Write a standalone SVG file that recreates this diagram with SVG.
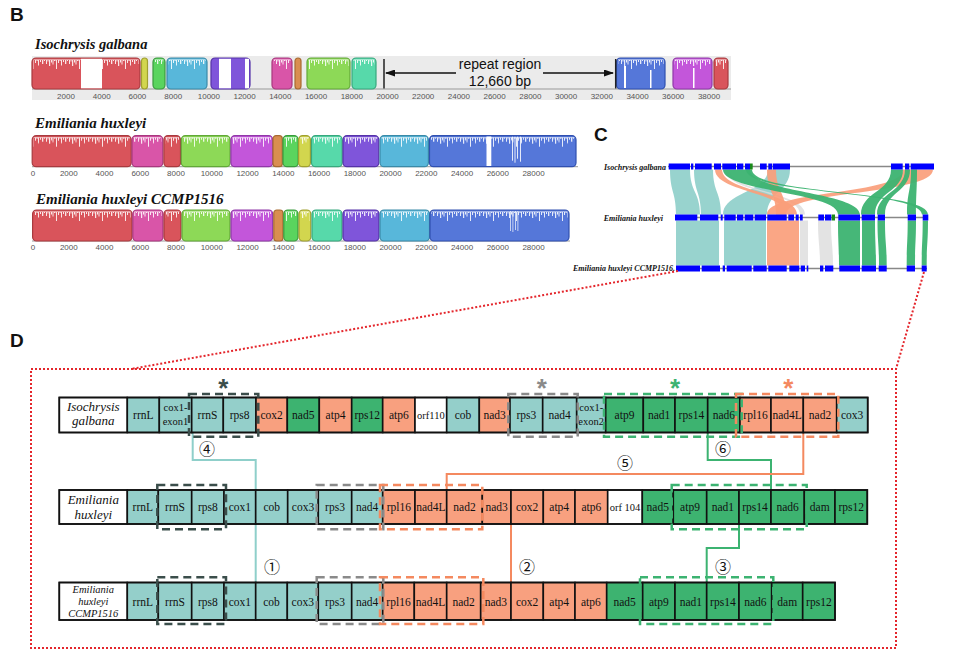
<svg xmlns="http://www.w3.org/2000/svg" width="953" height="661" viewBox="0 0 953 661">
<style>
.lab{font-family:"Liberation Sans",Arial,sans-serif;font-weight:bold;font-size:19px;fill:#111}
.sp{font-family:"Liberation Serif","Times New Roman",serif;font-weight:bold;font-style:italic;fill:#111}
.tk{font-family:"Liberation Sans",Arial,sans-serif;font-size:8px;fill:#555;text-anchor:middle}
.b{stroke-width:1.2}
.red{fill:#d9545b;stroke:#a83a3f}.yel{fill:#d2d64e;stroke:#a0a030}.grn{fill:#5ad45e;stroke:#3a9a3e}
.cya{fill:#58b7da;stroke:#3a8aa8}.pur{fill:#7f55da;stroke:#5533a8}.pnk{fill:#d955a8;stroke:#a8387e}
.org{fill:#d98e50;stroke:#a86a30}.lgr{fill:#8dd957;stroke:#62a838}.tea{fill:#57d9aa;stroke:#38a87e}
.blu{fill:#5577d9;stroke:#3050b0}.mag{fill:#c356da;stroke:#9038a8}
.ov{fill:url(#prof)}
.axis{stroke:#999;stroke-width:1}
.bl{fill:#0000ff}
.rt{fill:#8fcfca;opacity:.92}.rs{fill:#fa9e7b;opacity:.92}.rg{fill:#3cb371;opacity:.95}.rw{fill:#dcdcdc;opacity:.8}
.cl{stroke:#888;stroke-width:1.5}
.csp{font-family:"Liberation Serif","Times New Roman",serif;font-weight:bold;font-style:italic;font-size:8px;fill:#111;text-anchor:end}
.c rect{stroke:#111;stroke-width:1.6}
.tl{fill:#94cfca}.sa{fill:#f8a07f}.gr{fill:#3db370}.wh{fill:#fff}
.c text{font-family:"Liberation Serif","Times New Roman",serif;font-size:11.5px;text-anchor:middle;fill:#111}
.c text.sm{font-size:10.5px}
.c text.it{font-style:italic;font-size:13px}
.c text.it2{font-style:italic;font-size:10.5px}
.frame{fill:none;stroke:#111;stroke-width:2.5}
.dash{fill:none;stroke-width:2.5;stroke-dasharray:8 5}
.ast{font-family:"Liberation Sans",Arial,sans-serif;font-weight:bold;font-size:26px;text-anchor:middle}
.num{font-family:"Noto Sans CJK JP","DejaVu Sans",sans-serif;font-size:16px;text-anchor:middle;dominant-baseline:central;fill:#111}
.red-dot{fill:none;stroke:#e4262c;stroke-width:2;stroke-dasharray:2 2}
</style>
<defs>
<pattern id="prof" patternUnits="userSpaceOnUse" width="23" height="14">
<g fill="#fff" opacity="0.85">
<rect width="23" height="2"/>
<rect x="0" width="1" height="6"/><rect x="1.5" width="1" height="3.5"/><rect x="3" width="1.2" height="8"/>
<rect x="5" width="1" height="4.5"/><rect x="6.5" width="1" height="6.5"/><rect x="8" width="1.5" height="3"/>
<rect x="10" width="1" height="11"/><rect x="12" width="1" height="5"/><rect x="13.5" width="1.2" height="3"/>
<rect x="15" width="1" height="7.5"/><rect x="17" width="1" height="4"/><rect x="19" width="1.3" height="6"/><rect x="21" width="1" height="3"/>
</g>
</pattern>
<marker id="ah" markerUnits="userSpaceOnUse" markerWidth="10" markerHeight="7" refX="9" refY="3.5" orient="auto">
<path d="M0,0 L10,3.5 L0,7 z" fill="#111"/>
</marker>
</defs>
<rect width="953" height="661" fill="#fff"/>

<!-- Panel B -->
<g id="panelB">
<text class="lab" x="10" y="21">B</text>
<text class="sp" x="35" y="48.5" font-size="14.5">Isochrysis galbana</text>
<rect x="32" y="56" width="699" height="44" fill="#ebebeb"/>
<g id="trackIG" transform="translate(0,58)">
<line class="axis" x1="32" y1="31" x2="731" y2="31"/>
<rect class="b red" x="32" y="0" width="108" height="31" rx="4"/><rect class="ov" x="33.5" y="1.5" width="105" height="11"/><rect x="81" y="0.8" width="21" height="29.5" fill="#fff"/>
<rect class="b yel" x="141.5" y="0" width="6" height="31" rx="3"/>
<rect class="b grn" x="153" y="0" width="12" height="31" rx="4"/><rect class="ov" x="154.5" y="1.5" width="9" height="11"/>
<rect class="b cya" x="167" y="0" width="40" height="31" rx="4"/><rect class="ov" x="168.5" y="1.5" width="37" height="11"/>
<rect class="b pur" x="211" y="0" width="39" height="31" rx="4"/><rect x="219" y="0.8" width="12" height="29.5" fill="#fff"/><rect x="245" y="0.8" width="4" height="29.5" fill="#fff"/>
<rect class="b pnk" x="272" y="0" width="20" height="31" rx="4"/><rect class="ov" x="273.5" y="1.5" width="17" height="11"/>
<rect class="b org" x="295" y="0" width="6" height="31" rx="3"/>
<rect class="b lgr" x="307" y="0" width="43" height="31" rx="4"/><rect class="ov" x="308.5" y="1.5" width="40" height="11"/>
<rect class="b tea" x="352" y="0" width="24" height="31" rx="4"/><rect class="ov" x="353.5" y="1.5" width="21" height="11"/>
<rect class="b blu" x="616.5" y="0" width="48.5" height="31" rx="4"/><rect class="ov" x="618" y="1.5" width="45.5" height="11"/><rect x="624" y="8" width="2" height="22" fill="#fff"/><rect x="650" y="12" width="1.5" height="18" fill="#fff"/>
<rect class="b mag" x="673" y="0" width="39" height="31" rx="4"/><rect class="ov" x="674.5" y="1.5" width="36" height="11"/><rect x="693" y="10" width="1.5" height="20" fill="#fff"/>
<rect class="b red" x="714" y="0" width="14" height="31" rx="4"/><rect class="ov" x="715.5" y="1.5" width="11" height="11"/>
<line x1="384" y1="1" x2="384" y2="30.5" stroke="#222" stroke-width="1.5"/>
<line x1="615.7" y1="1" x2="615.7" y2="30.5" stroke="#222" stroke-width="1.5"/>
<line x1="456" y1="15" x2="386" y2="15" stroke="#111" stroke-width="1.3" marker-end="url(#ah)"/>
<line x1="543" y1="15" x2="613" y2="15" stroke="#111" stroke-width="1.3" marker-end="url(#ah)"/>
</g>
<text x="500" y="68.5" font-family="Liberation Sans,Arial,sans-serif" font-size="14" text-anchor="middle" fill="#111">repeat region</text>
<text x="500" y="85.5" font-family="Liberation Sans,Arial,sans-serif" font-size="14" text-anchor="middle" fill="#111">12,660 bp</text>
<g class="tk">
<text x="66" y="98.5">2000</text><text x="101.7" y="98.5">4000</text><text x="137.4" y="98.5">6000</text><text x="173.2" y="98.5">8000</text>
<text x="208.9" y="98.5">10000</text><text x="244.6" y="98.5">12000</text><text x="280.3" y="98.5">14000</text><text x="316" y="98.5">16000</text>
<text x="351.8" y="98.5">18000</text><text x="387.5" y="98.5">20000</text><text x="423.2" y="98.5">22000</text><text x="458.9" y="98.5">24000</text>
<text x="494.6" y="98.5">26000</text><text x="530.4" y="98.5">28000</text><text x="566.1" y="98.5">30000</text><text x="601.8" y="98.5">32000</text>
<text x="637.5" y="98.5">34000</text><text x="673.2" y="98.5">36000</text><text x="709" y="98.5">38000</text>
</g>

<text class="sp" x="35" y="127.5" font-size="15">Emiliania huxleyi</text>
<g id="trackEH" transform="translate(0,135.7)">
<line class="axis" x1="32" y1="31" x2="578" y2="31"/>
<rect class="b red" x="32.2" y="0" width="99" height="31" rx="4"/><rect class="ov" x="33.7" y="1.5" width="96" height="11"/>
<rect class="b pnk" x="132" y="0" width="30.8" height="31" rx="4"/><rect class="ov" x="133.5" y="1.5" width="27.8" height="11"/>
<rect class="b red" x="163.9" y="0" width="16.6" height="31" rx="4"/><rect class="ov" x="165.4" y="1.5" width="13.6" height="11"/>
<rect class="b lgr" x="181.3" y="0" width="48.8" height="31" rx="4"/><rect class="ov" x="182.8" y="1.5" width="45.8" height="11"/>
<rect class="b mag" x="230.9" y="0" width="41.8" height="31" rx="4"/><rect class="ov" x="232.4" y="1.5" width="38.8" height="11"/>
<rect class="b org" x="273" y="0" width="9.3" height="31" rx="3"/>
<rect class="b grn" x="283" y="0" width="15.2" height="31" rx="4"/><rect class="ov" x="284.5" y="1.5" width="12.2" height="11"/>
<rect class="b yel" x="298.6" y="0" width="11.8" height="31" rx="4"/><rect class="ov" x="300.1" y="1.5" width="8.8" height="11"/>
<rect class="b tea" x="311.5" y="0" width="30.7" height="31" rx="4"/><rect class="ov" x="313" y="1.5" width="27.7" height="11"/>
<rect class="b pur" x="343" y="0" width="35.8" height="31" rx="4"/><rect class="ov" x="344.5" y="1.5" width="32.8" height="11"/>
<rect class="b cya" x="380" y="0" width="48.4" height="31" rx="4"/><rect class="ov" x="381.5" y="1.5" width="45.4" height="11"/>
<rect class="b blu" x="429.5" y="0" width="146.5" height="31" rx="4"/><rect class="ov" x="431" y="1.5" width="143.5" height="11"/>
<rect x="486.5" y="0.8" width="4.8" height="29.5" fill="#fff"/>
<g fill="#fff" opacity="0.85"><rect x="512" y="1" width="1" height="24"/><rect x="514.5" y="1" width="1" height="26"/><rect x="517" y="1" width="1" height="22"/><rect x="520" y="1" width="1" height="25"/></g>
</g>
<g class="tk">
<text x="33" y="176">0</text><text x="68.8" y="176">2000</text><text x="104.5" y="176">4000</text><text x="140.3" y="176">6000</text>
<text x="176" y="176">8000</text><text x="211.8" y="176">10000</text><text x="247.5" y="176">12000</text><text x="283.3" y="176">14000</text>
<text x="319" y="176">16000</text><text x="354.8" y="176">18000</text><text x="390.5" y="176">20000</text><text x="426.3" y="176">22000</text>
<text x="462" y="176">24000</text><text x="497.8" y="176">26000</text><text x="533.5" y="176">28000</text>
</g>

<text class="sp" x="36" y="204" font-size="15">Emiliania huxleyi CCMP1516</text>
<g id="trackCC" transform="translate(0,210)">
<line class="axis" x1="32" y1="31" x2="570" y2="31"/>
<rect class="b red" x="32.6" y="0" width="99.4" height="31" rx="4"/><rect class="ov" x="34.1" y="1.5" width="96.4" height="11"/>
<rect class="b pnk" x="132.8" y="0" width="30.2" height="31" rx="4"/><rect class="ov" x="134.3" y="1.5" width="27.2" height="11"/>
<rect class="b red" x="164" y="0" width="17" height="31" rx="4"/><rect class="ov" x="165.5" y="1.5" width="14" height="11"/>
<rect class="b lgr" x="182" y="0" width="48" height="31" rx="4"/><rect class="ov" x="183.5" y="1.5" width="45" height="11"/>
<rect class="b mag" x="231" y="0" width="41.7" height="31" rx="4"/><rect class="ov" x="232.5" y="1.5" width="38.7" height="11"/>
<rect class="b org" x="273.8" y="0" width="9.2" height="31" rx="3"/>
<rect class="b grn" x="283.8" y="0" width="14.2" height="31" rx="4"/><rect class="ov" x="285.3" y="1.5" width="11.2" height="11"/>
<rect class="b yel" x="299" y="0" width="11.8" height="31" rx="4"/><rect class="ov" x="300.5" y="1.5" width="8.8" height="11"/>
<rect class="b tea" x="312" y="0" width="30" height="31" rx="4"/><rect class="ov" x="313.5" y="1.5" width="27" height="11"/>
<rect class="b pur" x="343" y="0" width="36" height="31" rx="4"/><rect class="ov" x="344.5" y="1.5" width="33" height="11"/>
<rect class="b cya" x="380" y="0" width="49.5" height="31" rx="4"/><rect class="ov" x="381.5" y="1.5" width="46.5" height="11"/>
<rect class="b blu" x="430" y="0" width="139" height="31" rx="4"/><rect class="ov" x="431.5" y="1.5" width="136" height="11"/>
<g fill="#fff" opacity="0.85"><rect x="510" y="1" width="0.8" height="20"/><rect x="512.5" y="1" width="0.8" height="21"/><rect x="515" y="1" width="0.8" height="19"/><rect x="517.5" y="1" width="0.8" height="20"/></g>
</g>
<g class="tk">
<text x="33" y="249.5">0</text><text x="68.8" y="249.5">2000</text><text x="104.5" y="249.5">4000</text><text x="140.3" y="249.5">6000</text>
<text x="176" y="249.5">8000</text><text x="211.8" y="249.5">10000</text><text x="247.5" y="249.5">12000</text><text x="283.3" y="249.5">14000</text>
<text x="319" y="249.5">16000</text><text x="354.8" y="249.5">18000</text><text x="390.5" y="249.5">20000</text><text x="426.3" y="249.5">22000</text>
<text x="462" y="249.5">24000</text><text x="497.8" y="249.5">26000</text><text x="533.5" y="249.5">28000</text>
</g>
</g>

<!-- Panel C -->
<g id="panelC">
<text class="lab" x="594" y="141">C</text>
<g id="ribbons">
<path class="rt" d="M670 169.5L690 169.5C690 192 700 192 700 214.5L676 214.5C676 192 670 192 670 169.5Z"/>
<path class="rt" d="M694 169.5L713 169.5C713 192 721 192 721 214.5L701 214.5C701 192 694 192 694 169.5Z"/>
<path class="rt" d="M768 169.5L790 169.5C790 192 767 192 767 214.5L723 214.5C723 192 768 192 768 169.5Z"/>
<path class="rw" d="M725 169.5L730 169.5C730 192 805 192 805 214.5L800 214.5C800 192 725 192 725 169.5Z"/>
<path class="rs" d="M715 169.5L722 169.5C722 192 797 192 797 214.5L786 214.5C786 192 715 192 715 169.5Z"/>
<path class="rs" d="M767 169.5L776 169.5C776 192 786 192 786 214.5L776 214.5C776 192 767 192 767 169.5Z"/>
<path class="rs" d="M903 169.5L933 169.5C933 195 786 190 786 214.5L767 214.5C767 190 903 195 903 169.5Z"/>
<path class="rg" d="M723 169.5L750 169.5C750 192 860 192 860 214.5L838 214.5C838 192 723 192 723 169.5Z"/>
<path class="rg" d="M891 169.5L903 169.5C903 192 875 192 875 214.5L861 214.5C861 192 891 192 891 169.5Z"/>
<path class="rg" d="M905 169.5L910 169.5C910 192 885 192 885 214.5L877 214.5C877 192 905 192 905 169.5Z"/>
<path class="rg" d="M911 169.5L917 169.5C917 192 916 192 916 214.5L907 214.5C907 192 911 192 911 169.5Z"/>
<path class="rg" d="M746 169.5L752 169.5C752 195 928 190 928 214.5L922 214.5C922 190 746 195 746 169.5Z"/>
<path class="rt" d="M676 220.5L719 220.5L719 265.5L676 265.5Z"/>
<path class="rt" d="M724 220.5L766 220.5L766 265.5L724 265.5Z"/>
<path class="rs" d="M767 220.5L799 220.5L799 265.5L767 265.5Z"/>
<path class="rw" d="M800 220.5L808 220.5L808 265.5L800 265.5Z"/>
<path class="rw" d="M818 220.5L831 220.5C831 243 833 243 833 265.5L820 265.5C820 243 818 243 818 220.5Z"/>
<path class="rg" d="M838 220.5L860 220.5L860 265.5L839 265.5C839 243 838 243 838 220.5Z"/>
<path class="rg" d="M862 220.5L875 220.5C875 243 876 243 876 265.5L862 265.5Z"/>
<path class="rg" d="M877.5 220.5L885 220.5C885 243 886.7 243 886.7 265.5L879 265.5C879 243 877.5 243 877.5 220.5Z"/>
<path class="rg" d="M907.7 220.5L916 220.5C916 243 915 243 915 265.5L906.7 265.5C906.7 243 907.7 243 907.7 220.5Z"/>
<path class="rg" d="M922.7 220.5L928 220.5C928 243 926.7 243 926.7 265.5L921.7 265.5C921.7 243 922.7 243 922.7 220.5Z"/>
</g>
<g id="c-ig">
<text class="csp" x="666" y="169.5">Isochrysis galbana</text>
<line class="cl" x1="668" y1="166.5" x2="934" y2="166.5"/>
<g class="bl">
<rect x="668.7" y="163.5" width="21.3" height="6"/><rect x="691" y="163.5" width="2.3" height="6"/><rect x="695" y="163.5" width="16.7" height="6"/>
<rect x="714" y="163.5" width="7" height="6"/><rect x="722.3" y="163.5" width="13.7" height="6"/><rect x="737" y="163.5" width="6.3" height="6"/>
<rect x="745" y="163.5" width="5" height="6"/><rect x="760" y="163.5" width="6.7" height="6"/><rect x="768.3" y="163.5" width="3.7" height="6"/>
<rect x="772.7" y="163.5" width="17.3" height="6"/><rect x="891" y="163.5" width="11.7" height="6"/><rect x="905" y="163.5" width="4.3" height="6"/>
<rect x="910.7" y="163.5" width="23.3" height="6"/>
</g>
<rect x="750" y="163.5" width="2.7" height="6" fill="#1a8a1a"/>
</g>
<g id="c-eh">
<text class="csp" x="663" y="220.5">Emiliania huxleyi</text>
<line class="cl" x1="675" y1="217.5" x2="928" y2="217.5"/>
<g class="bl">
<rect x="675" y="214.5" width="22.3" height="6"/><rect x="700" y="214.5" width="18.3" height="6"/><rect x="720.7" y="214.5" width="2" height="6"/>
<rect x="724.3" y="214.5" width="11.4" height="6"/><rect x="737" y="214.5" width="6.3" height="6"/><rect x="744.7" y="214.5" width="8.6" height="6"/>
<rect x="754.7" y="214.5" width="11.3" height="6"/><rect x="767.3" y="214.5" width="19.4" height="6"/><rect x="788.3" y="214.5" width="5.7" height="6"/>
<rect x="795.7" y="214.5" width="3" height="6"/><rect x="800" y="214.5" width="2.7" height="6"/><rect x="818.3" y="214.5" width="5.7" height="6"/>
<rect x="825" y="214.5" width="6.3" height="6"/><rect x="838.3" y="214.5" width="21.7" height="6"/><rect x="861.7" y="214.5" width="13.3" height="6"/>
<rect x="877.7" y="214.5" width="7.3" height="6"/><rect x="907.7" y="214.5" width="8.3" height="6"/><rect x="922.7" y="214.5" width="5.6" height="6"/>
</g>
<rect x="831.7" y="214.5" width="3.3" height="6" fill="#1a8a1a"/>
</g>
<g id="c-cc">
<text class="csp" x="675" y="271" font-size="8.5">Emiliania huxleyi CCMP1516.</text>
<line class="cl" x1="676" y1="268.5" x2="927" y2="268.5"/>
<g class="bl">
<rect x="676" y="265.5" width="24" height="6"/><rect x="701.7" y="265.5" width="18.3" height="6"/><rect x="722.7" y="265.5" width="2.3" height="6"/>
<rect x="726.7" y="265.5" width="25" height="6"/><rect x="753.3" y="265.5" width="13.4" height="6"/><rect x="768.3" y="265.5" width="18.4" height="6"/>
<rect x="789.3" y="265.5" width="10" height="6"/><rect x="800.7" y="265.5" width="4.3" height="6"/><rect x="806.7" y="265.5" width="1.6" height="6"/>
<rect x="820" y="265.5" width="3.3" height="6"/><rect x="825" y="265.5" width="8.3" height="6"/><rect x="839.3" y="265.5" width="20.7" height="6"/>
<rect x="861.7" y="265.5" width="14.3" height="6"/><rect x="878.7" y="265.5" width="8" height="6"/><rect x="906.7" y="265.5" width="8.3" height="6"/>
<rect x="921.7" y="265.5" width="5" height="6"/>
</g>
</g>
</g>

<!-- zoom indicator -->
<g id="zoombox">
<path class="red-dot" d="M678 271L131 369M924 272L896 369"/>
<rect class="red-dot" x="31" y="369" width="865" height="279"/>
</g>

<!-- Panel D -->
<text class="lab" x="10" y="347">D</text>

<g id="connectors" fill="none" stroke-width="2">
<polyline points="192.7,432 192.7,460 255.7,460 255.7,490" stroke="#8fcfca"/>
<polyline points="707.7,432 707.7,460 771,460 771,490" stroke="#3cb371"/>
<polyline points="803.3,432 803.3,474 446.7,474 446.7,490" stroke="#f4895f"/>
<polyline points="255.7,524 255.7,582.5" stroke="#8fcfca"/>
<polyline points="511,524 511,582.5" stroke="#f4895f"/>
<polyline points="739,524 739,548 706.7,548 706.7,582.5" stroke="#3cb371"/>
</g>
<g id="labels-num">
<text class="num" x="207" y="448">④</text>
<text class="num" x="625" y="462">⑤</text>
<text class="num" x="723" y="448">⑥</text>
<text class="num" x="272" y="566">①</text>
<text class="num" x="527" y="566">②</text>
<text class="num" x="723" y="566">③</text>
</g>

<g id="row-ig" class="c">
<g id="ig-label"><rect class="wh" x="59.3" y="397.5" width="68" height="35"/><text class="it" x="93.3" y="410.5">Isochrysis</text><text class="it" x="93.3" y="425">galbana</text></g>
<g id="ig-rrnL"><rect class="tl" x="127.3" y="397.5" width="32" height="35"/><text x="143.3" y="419">rrnL</text></g>
<g id="ig-cox1e1"><rect class="tl" x="159.3" y="397.5" width="32.4" height="35"/><text class="sm" x="175.5" y="411">cox1-</text><text class="sm" x="175.5" y="425">exon1</text></g>
<g id="ig-rrnS"><rect class="tl" x="191.7" y="397.5" width="31.6" height="35"/><text x="207.5" y="419">rrnS</text></g>
<g id="ig-rps8"><rect class="tl" x="223.3" y="397.5" width="32.7" height="35"/><text x="239.7" y="419">rps8</text></g>
<g id="ig-cox2"><rect class="sa" x="256" y="397.5" width="31.3" height="35"/><text x="271.7" y="419">cox2</text></g>
<g id="ig-nad5"><rect class="gr" x="287.3" y="397.5" width="32" height="35"/><text x="303.3" y="419">nad5</text></g>
<g id="ig-atp4"><rect class="sa" x="319.3" y="397.5" width="32.4" height="35"/><text x="335.5" y="419">atp4</text></g>
<g id="ig-rps12"><rect class="gr" x="351.7" y="397.5" width="31" height="35"/><text x="367.2" y="419">rps12</text></g>
<g id="ig-atp6"><rect class="sa" x="382.7" y="397.5" width="32.3" height="35"/><text x="398.9" y="419">atp6</text></g>
<g id="ig-orf110"><rect class="wh" x="415" y="397.5" width="31.7" height="35"/><text class="sm" x="430.9" y="419">orf110</text></g>
<g id="ig-cob"><rect class="tl" x="446.7" y="397.5" width="32.6" height="35"/><text x="463" y="419">cob</text></g>
<g id="ig-nad3"><rect class="sa" x="479.3" y="397.5" width="30.7" height="35"/><text x="494.7" y="419">nad3</text></g>
<g id="ig-rps3"><rect class="tl" x="510" y="397.5" width="32.7" height="35"/><text x="526.4" y="419">rps3</text></g>
<g id="ig-nad4"><rect class="tl" x="542.7" y="397.5" width="34" height="35"/><text x="559.7" y="419">nad4</text></g>
<g id="ig-cox1e2"><rect class="tl" x="576.7" y="397.5" width="29" height="35"/><text class="sm" x="591.2" y="411">cox1-</text><text class="sm" x="591.2" y="425">exon2</text></g>
<g id="ig-atp9"><rect class="gr" x="605.7" y="397.5" width="37.6" height="35"/><text x="624.5" y="419">atp9</text></g>
<g id="ig-nad1"><rect class="gr" x="643.3" y="397.5" width="31.7" height="35"/><text x="659.2" y="419">nad1</text></g>
<g id="ig-rps14"><rect class="gr" x="675" y="397.5" width="32.7" height="35"/><text x="691.4" y="419">rps14</text></g>
<g id="ig-nad6"><rect class="gr" x="707.7" y="397.5" width="32.3" height="35"/><text x="723.9" y="419">nad6</text></g>
<g id="ig-rpl16"><rect class="sa" x="740" y="397.5" width="31" height="35"/><text x="755.5" y="419">rpl16</text></g>
<g id="ig-nad4L"><rect class="sa" x="771" y="397.5" width="32.3" height="35"/><text x="787.2" y="419">nad4L</text></g>
<g id="ig-nad2"><rect class="sa" x="803.3" y="397.5" width="33.4" height="35"/><text x="820" y="419">nad2</text></g>
<g id="ig-cox3"><rect class="tl" x="836.7" y="397.5" width="31" height="35"/><text x="852.2" y="419">cox3</text></g>
<rect class="frame" x="59.3" y="397.5" width="808.4" height="35"/>
</g>

<g id="row-eh" class="c">
<g id="eh-label"><rect class="wh" x="59.3" y="490" width="68" height="34"/><text class="it" x="93.3" y="504">Emiliania</text><text class="it" x="93.3" y="519">huxleyi</text></g>
<g id="eh-rrnL"><rect class="tl" x="127.3" y="490" width="31" height="34"/><text x="142.8" y="511">rrnL</text></g>
<g id="eh-rrnS"><rect class="tl" x="158.3" y="490" width="33.4" height="34"/><text x="175" y="511">rrnS</text></g>
<g id="eh-rps8"><rect class="tl" x="191.7" y="490" width="32.3" height="34"/><text x="207.9" y="511">rps8</text></g>
<g id="eh-cox1"><rect class="tl" x="224" y="490" width="31.7" height="34"/><text x="239.9" y="511">cox1</text></g>
<g id="eh-cob"><rect class="tl" x="255.7" y="490" width="32" height="34"/><text x="271.7" y="511">cob</text></g>
<g id="eh-cox3"><rect class="tl" x="287.7" y="490" width="30.6" height="34"/><text x="303" y="511">cox3</text></g>
<g id="eh-rps3"><rect class="tl" x="318.3" y="490" width="33.4" height="34"/><text x="335" y="511">rps3</text></g>
<g id="eh-nad4"><rect class="tl" x="351.7" y="490" width="31" height="34"/><text x="367.2" y="511">nad4</text></g>
<g id="eh-rpl16"><rect class="sa" x="382.7" y="490" width="32.3" height="34"/><text x="398.9" y="511">rpl16</text></g>
<g id="eh-nad4L"><rect class="sa" x="415" y="490" width="31.7" height="34"/><text x="430.9" y="511">nad4L</text></g>
<g id="eh-nad2"><rect class="sa" x="446.7" y="490" width="35.6" height="34"/><text x="464.5" y="511">nad2</text></g>
<g id="eh-nad3"><rect class="sa" x="482.3" y="490" width="28.7" height="34"/><text x="496.7" y="511">nad3</text></g>
<g id="eh-cox2"><rect class="sa" x="511" y="490" width="32.3" height="34"/><text x="527.2" y="511">cox2</text></g>
<g id="eh-atp4"><rect class="sa" x="543.3" y="490" width="31.7" height="34"/><text x="559.2" y="511">atp4</text></g>
<g id="eh-atp6"><rect class="sa" x="575" y="490" width="32.7" height="34"/><text x="591.4" y="511">atp6</text></g>
<g id="eh-orf104"><rect class="wh" x="607.7" y="490" width="34.6" height="34"/><text class="sm" x="625" y="511">orf 104</text></g>
<g id="eh-nad5"><rect class="gr" x="642.3" y="490" width="31" height="34"/><text x="657.8" y="511">nad5</text></g>
<g id="eh-atp9"><rect class="gr" x="673.3" y="490" width="33.4" height="34"/><text x="690" y="511">atp9</text></g>
<g id="eh-nad1"><rect class="gr" x="706.7" y="490" width="32.3" height="34"/><text x="722.9" y="511">nad1</text></g>
<g id="eh-rps14"><rect class="gr" x="739" y="490" width="32" height="34"/><text x="755" y="511">rps14</text></g>
<g id="eh-nad6"><rect class="gr" x="771" y="490" width="33.3" height="34"/><text x="787.7" y="511">nad6</text></g>
<g id="eh-dam"><rect class="gr" x="804.3" y="490" width="30.7" height="34"/><text x="819.7" y="511">dam</text></g>
<g id="eh-rps12"><rect class="gr" x="835" y="490" width="32.3" height="34"/><text x="851.2" y="511">rps12</text></g>
<rect class="frame" x="59.3" y="490" width="808" height="34"/>
</g>

<g id="row-cc" class="c">
<g id="cc-label"><rect class="wh" x="59.3" y="582.5" width="68" height="37.5"/><text class="it2" x="93.3" y="592.5">Emiliania</text><text class="it2" x="93.3" y="605">huxleyi</text><text class="it2" x="93.3" y="617">CCMP1516</text></g>
<g id="cc-rrnL"><rect class="tl" x="127.3" y="582.5" width="31" height="37.5"/><text x="142.8" y="605.5">rrnL</text></g>
<g id="cc-rrnS"><rect class="tl" x="158.3" y="582.5" width="33.4" height="37.5"/><text x="175" y="605.5">rrnS</text></g>
<g id="cc-rps8"><rect class="tl" x="191.7" y="582.5" width="32.3" height="37.5"/><text x="207.9" y="605.5">rps8</text></g>
<g id="cc-cox1"><rect class="tl" x="224" y="582.5" width="31.7" height="37.5"/><text x="239.9" y="605.5">cox1</text></g>
<g id="cc-cob"><rect class="tl" x="255.7" y="582.5" width="31.6" height="37.5"/><text x="271.5" y="605.5">cob</text></g>
<g id="cc-cox3"><rect class="tl" x="287.3" y="582.5" width="31" height="37.5"/><text x="302.8" y="605.5">cox3</text></g>
<g id="cc-rps3"><rect class="tl" x="318.3" y="582.5" width="33.4" height="37.5"/><text x="335" y="605.5">rps3</text></g>
<g id="cc-nad4"><rect class="tl" x="351.7" y="582.5" width="31" height="37.5"/><text x="367.2" y="605.5">nad4</text></g>
<g id="cc-rpl16"><rect class="sa" x="382.7" y="582.5" width="31.6" height="37.5"/><text x="398.5" y="605.5">rpl16</text></g>
<g id="cc-nad4L"><rect class="sa" x="414.3" y="582.5" width="32.4" height="37.5"/><text x="430.5" y="605.5">nad4L</text></g>
<g id="cc-nad2"><rect class="sa" x="446.7" y="582.5" width="34" height="37.5"/><text x="463.7" y="605.5">nad2</text></g>
<g id="cc-nad3"><rect class="sa" x="480.7" y="582.5" width="30.3" height="37.5"/><text x="495.9" y="605.5">nad3</text></g>
<g id="cc-cox2"><rect class="sa" x="511" y="582.5" width="32.3" height="37.5"/><text x="527.2" y="605.5">cox2</text></g>
<g id="cc-atp4"><rect class="sa" x="543.3" y="582.5" width="31.7" height="37.5"/><text x="559.2" y="605.5">atp4</text></g>
<g id="cc-atp6"><rect class="sa" x="575" y="582.5" width="31.7" height="37.5"/><text x="590.9" y="605.5">atp6</text></g>
<g id="cc-nad5"><rect class="gr" x="606.7" y="582.5" width="36" height="37.5"/><text x="624.7" y="605.5">nad5</text></g>
<g id="cc-atp9"><rect class="gr" x="642.7" y="582.5" width="32.3" height="37.5"/><text x="658.9" y="605.5">atp9</text></g>
<g id="cc-nad1"><rect class="gr" x="675" y="582.5" width="31.7" height="37.5"/><text x="690.9" y="605.5">nad1</text></g>
<g id="cc-rps14"><rect class="gr" x="706.7" y="582.5" width="32.3" height="37.5"/><text x="722.9" y="605.5">rps14</text></g>
<g id="cc-nad6"><rect class="gr" x="739" y="582.5" width="32.7" height="37.5"/><text x="755.4" y="605.5">nad6</text></g>
<g id="cc-dam"><rect class="gr" x="771.7" y="582.5" width="31" height="37.5"/><text x="787.2" y="605.5">dam</text></g>
<g id="cc-rps12"><rect class="gr" x="802.7" y="582.5" width="32.3" height="37.5"/><text x="818.9" y="605.5">rps12</text></g>
<rect class="frame" x="59.3" y="582.5" width="775.7" height="37.5"/>
</g>

<g id="clusters">
<rect class="dash" x="189" y="394" width="69.3" height="42.7" stroke="#3b4e4b"/>
<rect class="dash" x="508.3" y="394" width="69.4" height="42.7" stroke="#8a8a8a"/>
<rect class="dash" x="604" y="394" width="137.7" height="42.7" stroke="#3cb371"/>
<rect class="dash" x="736" y="394" width="102.3" height="42.7" stroke="#f4895f"/>
<rect class="dash" x="157.3" y="485" width="68.7" height="44.3" stroke="#3b4e4b"/>
<rect class="dash" x="316.7" y="485" width="66.6" height="44.3" stroke="#8a8a8a"/>
<rect class="dash" x="380" y="485" width="102.3" height="44.3" stroke="#f4895f"/>
<rect class="dash" x="671.7" y="485" width="135" height="44.3" stroke="#3cb371"/>
<rect class="dash" x="157.3" y="577.3" width="68.7" height="46.7" stroke="#3b4e4b"/>
<rect class="dash" x="316.7" y="577.3" width="66.6" height="46.7" stroke="#8a8a8a"/>
<rect class="dash" x="380" y="577.3" width="103.3" height="46.7" stroke="#f4895f"/>
<rect class="dash" x="640" y="577.3" width="133.3" height="46.7" stroke="#3cb371"/>
<text class="ast" x="223.3" y="397" fill="#3b4e4b">*</text>
<text class="ast" x="541.7" y="397" fill="#8a8a8a">*</text>
<text class="ast" x="675" y="397" fill="#3cb371">*</text>
<text class="ast" x="788.3" y="397" fill="#f4895f">*</text>
</g>
</svg>
